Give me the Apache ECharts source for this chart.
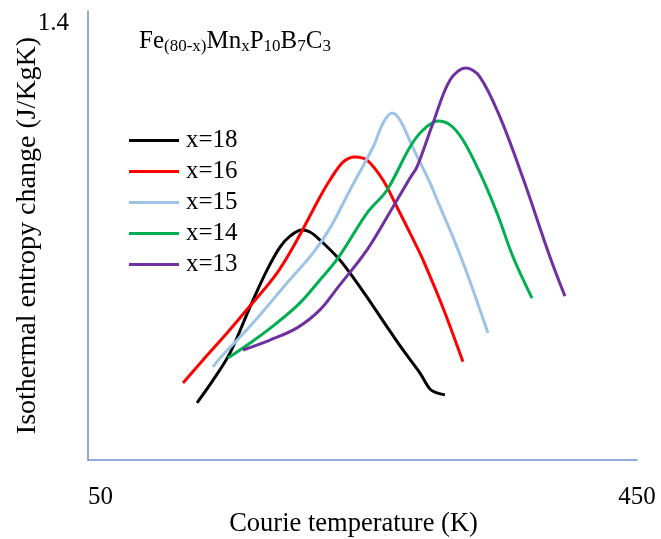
<!DOCTYPE html>
<html>
<head>
<meta charset="utf-8">
<script src="https://cdn.jsdelivr.net/npm/echarts@6/dist/echarts.min.js"></script>
<style>
  html, body { margin: 0; padding: 0; background: #fff; }
  #chart { width: 661px; height: 539px; }
</style>
</head>
<body>
<div id="chart"></div>
<script>
// data: [temperature K, entropy change]
const x18 = [[129.4,0.178],[141.1,0.249],[153.5,0.334],[168.0,0.477],[180.4,0.592],[189.9,0.664],[197.2,0.698],[205.9,0.717],[211.7,0.711],[219.0,0.686],[232.2,0.630],[240.9,0.583],[253.3,0.508],[267.9,0.415],[279.5,0.343],[291.9,0.271],[299.2,0.221],[304.3,0.209],[310.1,0.203]]
const x16 = [[119.2,0.240],[133.8,0.312],[151.3,0.396],[168.0,0.480],[187.7,0.583],[202.3,0.686],[219.0,0.820],[226.3,0.873],[235.8,0.929],[244.5,0.945],[253.3,0.935],[264.9,0.873],[275.1,0.789],[289.7,0.664],[294.1,0.624],[308.7,0.474],[323.2,0.306]]
const x15 = [[141.1,0.290],[146.2,0.318],[170.2,0.427],[195.0,0.552],[213.9,0.645],[226.3,0.723],[240.9,0.842],[257.7,0.976],[265.0,1.051],[271.5,1.082],[277.3,1.060],[286.8,0.973],[299.2,0.864],[306.5,0.789],[315.9,0.695],[326.1,0.583],[341.4,0.396]]
const x14 = [[152.0,0.318],[170.2,0.371],[188.4,0.430],[204.5,0.490],[219.0,0.561],[232.2,0.630],[253.3,0.770],[267.9,0.842],[284.6,0.976],[294.1,1.029],[305.0,1.057],[313.8,1.045],[323.2,0.998],[335.6,0.895],[348.0,0.770],[359.7,0.633],[373.5,0.505]]
const x13 = [[162.9,0.343],[182.6,0.374],[202.3,0.412],[219.0,0.468],[232.2,0.539],[253.3,0.655],[272.2,0.789],[284.6,0.879],[289.7,0.914],[301.4,1.051],[313.8,1.185],[325.4,1.222],[335.6,1.194],[350.2,1.069],[366.9,0.879],[386.6,0.633],[397.5,0.511]]

const names = ["x=18", "x=16", "x=15", "x=14", "x=13"]
const colors = ["#000000", "#ff0000", "#9dc3e6", "#00b050", "#7030a0"]
const seriesData = [x18, x16, x15, x14, x13]
const xTicks = [50, 450]
const yTicks = [1.4]

const font = "'Liberation Serif', 'Times New Roman', serif"
const axisColor = "#6f8fcf"

let myChart = echarts.init(document.getElementById("chart"))
myChart.setOption({
    backgroundColor: "#fff",
    animation: false,
    title: {
        left: 134,
        top: 22,
        text: "{m|Fe}{s|(80-x)}{m|Mn}{s|x}{m|P}{s|10}{m|B}{s|7}{m|C}{s|3}",
        textStyle: {
            fontWeight: "normal",
            rich: {
                m: { fontFamily: font, fontSize: 25, fontWeight: "normal", color: "#000", lineHeight: 28 },
                s: { fontFamily: font, fontSize: 17, fontWeight: "normal", color: "#000", lineHeight: 16, verticalAlign: "bottom" }
            }
        }
    },
    legend: {
        orient: "vertical",
        left: 129,
        top: 128,
        padding: 0,
        icon: "rect",
        itemWidth: 50,
        itemHeight: 3,
        itemGap: 6,
        textStyle: { fontFamily: font, fontSize: 25, color: "#000", lineHeight: 24, padding: [0, 0, 0, 2] },
        data: names
    },
    grid: {
        left: 88,
        right: 24,
        top: 11,
        bottom: 79,
        outerBoundsMode: "none"
    },
    xAxis: {
        type: "value",
        min: 50,
        max: 450,
        interval: 400,
        name: "Courie temperature (K)",
        nameLocation: "middle",
        nameGap: 51,
        nameMoveOverlap: false,
        nameTextStyle: { fontFamily: font, fontSize: 26.5, color: "#000", padding: [0, 18, 0, 0] },
        axisLine: { show: true, lineStyle: { color: axisColor, width: 1.5 } },
        axisTick: { show: false },
        splitLine: { show: false },
        axisLabel: {
            margin: 25,
            fontFamily: font,
            fontSize: 25,
            color: "#000",
            alignMinLabel: "left",
            formatter: v => xTicks.includes(v) ? String(v) : ""
        }
    },
    yAxis: {
        type: "value",
        min: 0,
        max: 1.4,
        interval: 1.4,
        name: "Isothermal entropy change (J/KgK)",
        nameLocation: "middle",
        nameGap: 46,
        nameMoveOverlap: false,
        nameTextStyle: { fontFamily: font, fontSize: 28, color: "#000" },
        axisLine: { show: true, lineStyle: { color: axisColor, width: 1.5 } },
        axisTick: { show: false },
        splitLine: { show: false },
        axisLabel: {
            margin: 19,
            fontFamily: font,
            fontSize: 25,
            color: "#000",
            verticalAlign: "top",
            formatter: v => yTicks.includes(v) ? v.toFixed(1) : ""
        }
    },
    series: seriesData.map((d, i) => ({
        name: names[i],
        type: "line",
        data: d,
        smooth: 0.35,
        symbol: "none",
        showSymbol: false,
        color: colors[i],
        lineStyle: { color: colors[i], width: 3 }
    }))
})
</script>
</body>
</html>
